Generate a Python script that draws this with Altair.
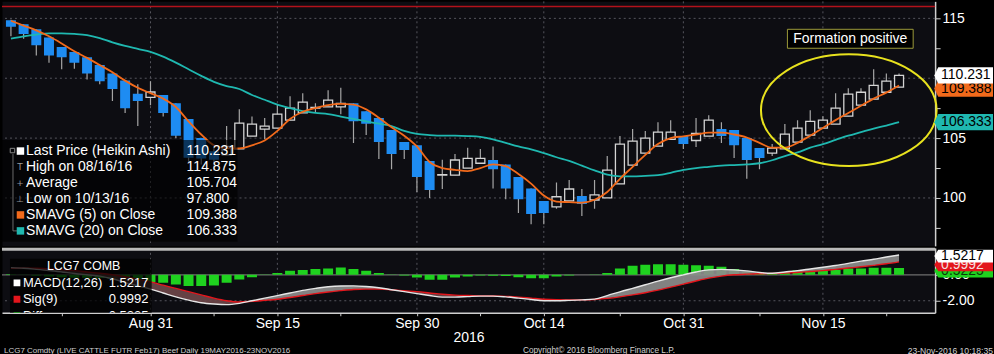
import altair as alt
import pandas as pd

FONT = "Liberation Sans"
W = 935
H_MAIN = 245
H_LOW = 65

# ---------------- data ----------------
days = ["08/16", "08/17", "08/18", "08/19", "08/22", "08/23", "08/24", "08/25", "08/26", "08/29",
        "08/30", "08/31", "09/01", "09/02", "09/06", "09/07", "09/08", "09/09", "09/12", "09/13",
        "09/14", "09/15", "09/16", "09/19", "09/20", "09/21", "09/22", "09/23", "09/26", "09/27",
        "09/28", "09/29", "09/30", "10/03", "10/04", "10/05", "10/06", "10/07", "10/10", "10/11",
        "10/12", "10/13", "10/14", "10/17", "10/18", "10/19", "10/20", "10/21", "10/24", "10/25",
        "10/26", "10/27", "10/28", "10/31", "11/01", "11/02", "11/03", "11/04", "11/07", "11/08",
        "11/09", "11/10", "11/11", "11/14", "11/15", "11/16", "11/17", "11/18", "11/21", "11/22",
        "11/23"]

ha_open = [114.85, 114.5, 114.1, 113.4, 112.6, 112.2, 111.75, 111.1, 110.4, 109.8,
           108.7, 108.4, 108.6, 107.9, 106.6, 105.0, 103.9, 103.6, 104.1, 105.17,
           105.75, 105.83, 106.5, 107.1, 107.5, 107.6, 107.6, 107.9, 107.25, 106.67,
           105.67, 104.67, 104.4, 103.08, 101.9, 101.9, 102.5, 102.9, 103.17, 102.8,
           101.75, 100.8, 99.75, 99.25, 99.75, 100.17, 99.83, 100.0, 101.17, 102.75,
           103.75, 104.33, 104.9, 105.17, 104.8, 105.17, 105.75, 105.67, 105.0, 104.17,
           103.75, 104.1, 104.67, 105.25, 105.83, 106.17, 106.83, 107.75, 108.25, 108.83,
           109.25]
ha_close = [114.3, 113.7, 112.75, 111.9, 111.75, 111.3, 110.4, 109.75, 109.1, 107.5,
            108.1, 108.85, 107.1, 105.2, 103.35, 103.3, 103.2, 104.3, 106.25, 106.17,
            106.0, 107.0, 107.5, 108.0, 107.56, 108.17, 107.9, 106.4, 106.2, 104.67,
            103.67, 104.0, 101.75, 100.67, 101.95, 103.17, 103.3, 103.3, 102.4, 100.8,
            99.9, 98.67, 98.75, 100.1, 100.75, 99.5, 100.25, 102.33, 104.5, 104.75,
            105.0, 105.5, 105.5, 104.5, 105.4, 106.5, 105.17, 104.4, 103.17, 103.33,
            104.17, 105.33, 105.83, 106.4, 106.5, 107.5, 108.67, 108.83, 109.4, 109.75,
            110.231]
ha_high = [114.875, 114.5, 114.1, 113.4, 112.6, 112.2, 111.75, 111.1, 110.4, 109.8,
           109.5, 109.75, 108.6, 107.9, 106.6, 105.0, 104.2, 106.0, 107.4, 106.8,
           106.67, 107.8, 108.5, 108.75, 107.9, 109.0, 109.2, 107.9, 107.25, 106.67,
           105.67, 104.67, 104.4, 103.08, 103.2, 103.67, 104.2, 104.1, 104.3, 102.8,
           101.75, 100.8, 99.75, 101.3, 101.5, 100.75, 101.5, 103.5, 105.17, 105.75,
           105.6, 106.33, 106.5, 105.17, 106.67, 106.9, 106.33, 105.67, 105.0, 104.17,
           104.5, 106.17, 106.5, 107.33, 106.83, 108.75, 109.17, 109.17, 110.75, 110.4,
           110.4]
ha_low = [113.5, 113.3, 111.9, 111.3, 110.75, 110.8, 109.9, 109.5, 108.1, 107.1,
          106.0, 107.75, 106.8, 105.0, 103.0, 102.8, 102.3, 103.6, 104.1, 105.17,
          104.9, 105.83, 106.5, 107.1, 107.1, 107.6, 107.0, 104.6, 105.25, 103.25,
          102.4, 103.25, 100.5, 100.0, 100.75, 101.9, 102.5, 102.9, 100.8, 99.9,
          98.75, 97.8, 97.8, 99.1, 99.75, 98.5, 99.1, 100.0, 101.17, 102.75,
          103.75, 104.33, 104.9, 104.1, 104.25, 105.17, 104.6, 103.33, 101.6, 102.4,
          103.5, 104.1, 104.67, 105.25, 105.83, 106.17, 106.83, 107.75, 108.25, 108.83,
          109.25]
sma5 = [114.8, 114.4, 114.0, 113.5, 112.9, 112.25, 111.7, 111.1, 110.5, 109.8,
        109.2, 108.75, 108.3, 107.6, 106.4, 105.3, 104.4, 104.15, 104.15, 104.4,
        104.8, 105.6, 106.6, 107.2, 107.5, 107.75, 107.85, 107.8, 107.4, 106.7,
        105.9, 105.2, 104.3, 103.0, 102.5, 102.35, 102.25, 102.5, 102.8, 102.65,
        102.0, 101.2, 100.2, 99.7, 99.65, 99.6, 99.85, 100.5, 101.6, 102.6,
        103.6, 104.5, 105.0, 105.15, 105.3, 105.45, 105.45, 105.3, 105.05, 104.6,
        104.2, 104.2, 104.6, 105.2, 105.85, 106.5, 107.1, 107.7, 108.3, 108.8,
        109.388]
sma20 = [113.3, 113.5, 113.65, 113.75, 113.75, 113.7, 113.6, 113.35, 113.0, 112.7,
         112.45, 112.2, 111.8, 111.3, 110.75, 110.2, 109.7, 109.35, 109.1, 108.6,
         108.2, 107.8, 107.5, 107.25, 107.1, 107.0, 106.8, 106.6, 106.4, 106.2,
         106.0, 105.6, 105.35, 105.25, 105.2, 105.2, 105.17, 105.1, 104.9, 104.6,
         104.3, 104.05, 103.75, 103.4, 103.1, 102.7, 102.3, 101.95, 101.8, 101.8,
         101.85, 101.9, 102.1, 102.35, 102.5, 102.6, 102.7, 102.75, 102.8, 102.9,
         103.15, 103.5, 103.8, 104.2, 104.5, 104.85, 105.2, 105.5, 105.8, 106.05,
         106.333]
macd = [0.55, 0.5, 0.42, 0.33, 0.22, 0.1, 0.0, -0.1, -0.3, -0.6,
        -0.85, -1.1, -1.4, -1.7, -1.95, -2.15, -2.25, -2.3, -2.2, -2.0,
        -1.8, -1.6, -1.4, -1.2, -1.05, -0.92, -0.86, -0.85, -0.9, -1.0,
        -1.15, -1.3, -1.45, -1.6, -1.72, -1.72, -1.68, -1.64, -1.64, -1.7,
        -1.8, -1.9, -2.0, -2.0, -1.97, -1.93, -1.87, -1.6, -1.31, -1.04,
        -0.77, -0.49, -0.23, 0.0, 0.22, 0.38, 0.42, 0.38, 0.3, 0.18,
        0.12, 0.22, 0.32, 0.45, 0.58, 0.72, 0.88, 1.05, 1.2, 1.37,
        1.5217]
sig = [0.5, 0.52, 0.5, 0.46, 0.4, 0.32, 0.22, 0.12, 0.0, -0.15,
       -0.33, -0.55, -0.8, -1.05, -1.3, -1.55, -1.8, -2.0, -2.1, -2.05,
       -1.97, -1.88, -1.75, -1.6, -1.45, -1.33, -1.22, -1.13, -1.1, -1.1,
       -1.15, -1.23, -1.3, -1.4, -1.5, -1.57, -1.6, -1.62, -1.63, -1.66,
       -1.72, -1.8, -1.88, -1.92, -1.93, -1.93, -1.9, -1.82, -1.7, -1.55,
       -1.38, -1.18, -0.95, -0.72, -0.48, -0.26, -0.1, 0.0, 0.05, 0.08,
       0.1, 0.13, 0.18, 0.25, 0.32, 0.42, 0.52, 0.62, 0.73, 0.85,
       0.9992]
diff = [0.05, -0.02, -0.08, -0.13, -0.18, -0.22, -0.22, -0.25, -0.3, -0.42,
        -0.5, -0.55, -0.62, -0.74, -0.87, -0.87, -0.82, -0.62, -0.36, -0.18,
        0.03, 0.13, 0.31, 0.38, 0.44, 0.49, 0.56, 0.44, 0.31, 0.13,
        0.03, -0.05, -0.2, -0.38, -0.38, -0.2, -0.13, -0.05, -0.08, -0.1,
        -0.18, -0.26, -0.26, -0.13, -0.05, 0.0, 0.03, 0.13, 0.49, 0.69,
        0.77, 0.82, 0.82, 0.77, 0.74, 0.69, 0.62, 0.44, 0.23, 0.1,
        0.12, 0.2, 0.36, 0.31, 0.31, 0.38, 0.49, 0.49, 0.54, 0.54,
        0.5225]

major_idx = [11, 21, 32, 42, 53, 64]
major_labels = ["Aug 31", "Sep 15", "Sep 30", "Oct 14", "Oct 31", "Nov 15"]
minor_idx = [4, 16, 26, 37, 48, 59, 69]

price_ticks = [115, 112.5, 110, 107.5, 105, 102.5, 100, 97.5]
price_tick_labels = ["115", "", "", "", "105", "", "100", ""]
price_grid = [115, 110, 105, 100]
macd_ticks = [0, -2]
macd_tick_labels = ["0.00", "-2.00"]

legend_labels = ["Last Price (Heikin Ashi)", "High on 08/16/16", "Average",
                 "Low on 10/13/16", "SMAVG (5) on Close", "SMAVG (20) on Close"]
legend_values = ["110.231", "114.875", "105.704", "97.800", "109.388", "106.333"]

low_labels = ["MACD(12,26)", "Sig(9)", "Diff"]
low_values = ["1.5217", "0.9992", "0.5225"]

price_tags = [106.333, 109.388, 110.231]
price_tag_text = ["106.333", "109.388", "110.231"]
macd_tags = [0.5225, 0.9992, 1.5217]
macd_tag_text = ["0.5225", "0.9992", "1.5217"]

# ---------------- styles ----------------
BG = "#0d0d12"
BLUE = "#1e8cf2"
ORANGE = "#f26a1b"
TEAL = "#1fb8b0"
GRID = "#55555d"
AXIS = "#cfcfcf"
GREEN = "#1fd21f"
RED = "#e3161c"

n = len(ha_open)
df = pd.DataFrame({
    "i": list(range(n)), "day": days,
    "open": ha_open, "high": ha_high, "low": ha_low, "close": ha_close,
    "sma5": sma5, "sma20": sma20, "macd": macd, "sig": sig, "diff": diff,
})

xscale = alt.Scale(domain=[-0.311, 72.45], nice=False, zero=False)
pscale = alt.Scale(domain=[96.0, 116.42], nice=False, zero=False)
mscale = alt.Scale(domain=[-2.923, 2.077], nice=False, zero=False)


def lookup_expr(vals, labs):
    expr = "''"
    for v, l in zip(vals, labs):
        expr = f"datum.value == {v} ? '{l}' : ({expr})"
    return expr


price_axis = alt.Axis(orient="right", values=price_ticks,
                      labelExpr=lookup_expr(price_ticks, price_tick_labels),
                      tickSize=5, tickColor=AXIS, domainColor=AXIS, domainWidth=1.5,
                      labelColor="#ffffff", labelFont=FONT, labelFontSize=14,
                      labelPadding=2, labelFlush=False, labelOverlap=False,
                      grid=False, title=None)
macd_axis = alt.Axis(orient="right", values=macd_ticks,
                     labelExpr=lookup_expr(macd_ticks, macd_tick_labels),
                     tickSize=5, tickColor=AXIS, domainColor=AXIS, domainWidth=1.5,
                     labelColor="#ffffff", labelFont=FONT, labelFontSize=14,
                     labelPadding=2, labelFlush=False, labelOverlap=False,
                     grid=False, title=None)
x_axis = alt.Axis(orient="bottom", values=major_idx + minor_idx,
                  labelExpr=lookup_expr(major_idx, major_labels),
                  tickSize=3, tickColor=AXIS, domainColor=AXIS, domainWidth=1.5,
                  labelColor="#ffffff", labelFont=FONT, labelFontSize=14,
                  labelPadding=1, labelFlush=False, labelOverlap=False, grid=False,
                  title="2016", titleColor="#ffffff", titleFont=FONT, titleFontSize=14,
                  titleFontWeight="normal", titleY=25, titleBaseline="middle")


def XM(f="i"):
    # main panel: no x axis at all
    return alt.X(f"{f}:Q", scale=xscale, axis=None)


def XL(f="i"):
    # lower panel: every layer carries the same x axis
    return alt.X(f"{f}:Q", scale=xscale, axis=x_axis)


def YP(f):
    return alt.Y(f"{f}:Q", scale=pscale, axis=price_axis)


def YM(f):
    return alt.Y(f"{f}:Q", scale=mscale, axis=macd_axis)


def one(**kw):
    return alt.Chart(pd.DataFrame({k: [v] for k, v in kw.items()} if kw else {"a": [0]}))


base = alt.Chart(df)

# ---------------- main panel ----------------
main_layers = []
main_layers.append(alt.Chart(pd.DataFrame({"p": price_grid})).mark_rule(
    color=GRID, strokeWidth=1, strokeDash=[2, 3]).encode(y=YP("p")))
main_layers.append(alt.Chart(pd.DataFrame({"g": major_idx})).mark_rule(
    color=GRID, strokeWidth=1, strokeDash=[2, 3]).encode(x=XM("g")))
main_layers.append(alt.Chart(pd.DataFrame({"p": [116.0]})).mark_rule(
    color="#b3121b", strokeWidth=1.5).encode(y=YP("p")))
main_layers.append(base.mark_rule(color="#a6a6a6", strokeWidth=1.2, clip=True).encode(
    x=XM(), y=YP("low"), y2="high"))
main_layers.append(base.transform_filter("datum.close < datum.open").mark_bar(
    size=10, color=BLUE, opacity=1, clip=True).encode(x=XM(), y=YP("open"), y2="close"))
main_layers.append(base.transform_filter("datum.close >= datum.open").mark_bar(
    size=9, fill=BG, stroke="#d4d4d4", strokeWidth=1.3, opacity=1, clip=True).encode(
    x=XM(), y=YP("open"), y2="close"))
main_layers.append(base.mark_line(color=TEAL, strokeWidth=1.8, interpolate="monotone",
                                  clip=True).encode(x=XM(), y=YP("sma20")))
main_layers.append(base.mark_line(color=ORANGE, strokeWidth=1.8, interpolate="monotone",
                                  clip=True).encode(x=XM(), y=YP("sma5")))

# legend box
main_layers.append(one().mark_rect(color="#000000", opacity=0.62).encode(
    x=alt.value(0), x2=alt.value(236), y=alt.value(139), y2=alt.value(241)))
main_layers.append(one().mark_rule(color="#6a6a6a", strokeWidth=1).encode(
    x=alt.value(11), y=alt.value(153), y2=alt.value(230)))
main_layers.append(one().mark_rule(color="#6a6a6a", strokeWidth=1).encode(
    x=alt.value(11), x2=alt.value(15), y=alt.value(230)))
main_layers.append(one().mark_point(shape="square", size=20, filled=False, color="#8a8a8a",
                                    opacity=1, strokeWidth=1).encode(
    x=alt.value(10.5), y=alt.value(149.5)))
icon_glyphs = [None, "T", "+", "\u22a5", None, None]
icon_colors = ["#ffffff", None, None, None, ORANGE, TEAL]
for r, (lab, val) in enumerate(zip(legend_labels, legend_values)):
    py = 150 + 16 * r
    main_layers.append(one(t=lab).mark_text(
        align="left", baseline="middle", font=FONT, fontSize=14, color="#ffffff").encode(
        x=alt.value(24), y=alt.value(py), text="t:N"))
    main_layers.append(one(t=val).mark_text(
        align="left", baseline="middle", font=FONT, fontSize=14, color="#ffffff").encode(
        x=alt.value(185), y=alt.value(py), text="t:N"))
    if icon_colors[r]:
        main_layers.append(one().mark_point(shape="square", size=56, filled=True,
                                            color=icon_colors[r], opacity=1).encode(
            x=alt.value(18.5), y=alt.value(py)))
    else:
        main_layers.append(one(t=icon_glyphs[r]).mark_text(
            align="center", baseline="middle", font="DejaVu Sans", fontSize=9,
            color="#9a9a9a").encode(x=alt.value(18), y=alt.value(py), text="t:N"))

# annotation: ellipse and caption
k = 0.5523
r_ = 0.636
ELLIPSE = (f"M -1 0 C -1 {-k*r_:.4f} {-k} {-r_} 0 {-r_} "
           f"C {k} {-r_} 1 {-k*r_:.4f} 1 0 "
           f"C 1 {k*r_:.4f} {k} {r_} 0 {r_} "
           f"C {-k} {r_} -1 {k*r_:.4f} -1 0 Z")
main_layers.append(one().mark_point(shape=ELLIPSE, size=176 * 176, filled=False,
                                    color="#e8e21e", strokeWidth=2, opacity=1).encode(
    x=alt.value(848.5), y=alt.value(109)))
main_layers.append(one().mark_rect(fill="#000000", stroke="#9c9a3a", strokeWidth=1).encode(
    x=alt.value(787), x2=alt.value(913), y=alt.value(28), y2=alt.value(47)))
main_layers.append(one(t="Formation positive").mark_text(
    align="center", baseline="middle", font=FONT, fontSize=14, color="#ffffff").encode(
    x=alt.value(850), y=alt.value(38), text="t:N"))

# right side value tags
TAG_MAIN = "M -1.1 0 L -0.96 -0.29 L 1 -0.29 L 1 0.29 L -0.96 0.29 Z"
tag_fill = [TEAL, ORANGE, "#ffffff"]
tag_offset = [0, 3, 0]
for v, t, c, o in zip(price_tags, price_tag_text, tag_fill, tag_offset):
    d = one(v=v, t=t)
    main_layers.append(d.mark_point(shape=TAG_MAIN, size=56 * 56, filled=True, color=c,
                                    opacity=1, strokeWidth=0, yOffset=o).encode(
        x=alt.value(965), y=YP("v")))
    main_layers.append(d.mark_text(align="left", baseline="middle", font=FONT, fontSize=14,
                                   color="#000000", yOffset=o).encode(
        x=alt.value(941), y=YP("v"), text="t:N"))

main = alt.layer(*main_layers).properties(width=W, height=H_MAIN)

# ---------------- MACD panel ----------------
low_layers = []
low_layers.append(alt.Chart(pd.DataFrame({"g": major_idx})).mark_rule(
    color=GRID, strokeWidth=1, strokeDash=[2, 3]).encode(x=XL("g")))
low_layers.append(alt.Chart(pd.DataFrame({"m": [-2.0]})).mark_rule(
    color=GRID, strokeWidth=1, strokeDash=[2, 3]).encode(y=YM("m")))
low_layers.append(alt.Chart(pd.DataFrame({"m": [0.0]})).mark_rule(
    color="#6e6e6e", strokeWidth=1.2).encode(y=YM("m")))
low_layers.append(base.mark_bar(size=10, color=GREEN, opacity=1, clip=True).encode(
    x=XL(), y=YM("diff"), y2=alt.datum(0)))
low_layers.append(base.transform_calculate(hi="max(datum.macd, datum.sig)").mark_area(
    color="#8c8c8c", opacity=0.92, interpolate="monotone", clip=True).encode(
    x=XL(), y=YM("hi"), y2="sig"))
low_layers.append(base.transform_calculate(lo="min(datum.macd, datum.sig)").mark_area(
    color="#6f474a", opacity=0.9, interpolate="monotone", clip=True).encode(
    x=XL(), y=YM("lo"), y2="sig"))
low_layers.append(base.mark_line(color=RED, strokeWidth=1.4, interpolate="monotone",
                                 clip=True).encode(x=XL(), y=YM("sig")))
low_layers.append(base.mark_line(color="#e6e6e6", strokeWidth=1.4, interpolate="monotone",
                                 clip=True).encode(x=XL(), y=YM("macd")))
# separator bar on top of the panel
low_layers.append(one().mark_rule(color="#b9b9b9", strokeWidth=3).encode(
    x=alt.value(0), x2=alt.value(W), y=alt.value(1.5)))

# legend
low_layers.append(one().mark_rect(color="#000000", opacity=0.75).encode(
    x=alt.value(8), x2=alt.value(150), y=alt.value(11), y2=alt.value(65)))
low_layers.append(one(t="LCG7 COMB").mark_text(
    align="left", baseline="middle", font=FONT, fontSize=12.5, color="#ffffff").encode(
    x=alt.value(45), y=alt.value(18), text="t:N"))
low_colors = ["#ffffff", RED, GREEN]
for r, (lab, val, c) in enumerate(zip(low_labels, low_values, low_colors)):
    py = 35 + 16.5 * r
    low_layers.append(one().mark_point(shape="square", size=46, filled=True, color=c,
                                       opacity=1, clip=True).encode(
        x=alt.value(15), y=alt.value(py)))
    low_layers.append(one(t=lab).mark_text(
        align="left", baseline="middle", font=FONT, fontSize=13, color="#ffffff",
        clip=True).encode(x=alt.value(21), y=alt.value(py), text="t:N"))
    low_layers.append(one(t=val).mark_text(
        align="left", baseline="middle", font=FONT, fontSize=13, color="#ffffff",
        clip=True).encode(x=alt.value(107), y=alt.value(py), text="t:N"))

TAG_LOW = "M -1.1 0 L -0.96 -0.23 L 1 -0.23 L 1 0.23 L -0.96 0.23 Z"
mtag_fill = [GREEN, RED, "#ffffff"]
mtag_text = ["#0a3a0a", "#f4dede", "#000000"]
mtag_offset = [3, 3, 1]
for v, t, c, tc, o in zip(macd_tags, macd_tag_text, mtag_fill, mtag_text, mtag_offset):
    d = one(v=v, t=t)
    low_layers.append(d.mark_point(shape=TAG_LOW, size=56 * 56, filled=True, color=c,
                                   opacity=1, strokeWidth=0, yOffset=o).encode(
        x=alt.value(965), y=YM("v")))
    low_layers.append(d.mark_text(align="left", baseline="middle", font=FONT, fontSize=14,
                                  color=tc, yOffset=o).encode(
        x=alt.value(941), y=YM("v"), text="t:N"))

# footer
footer = [("LCG7 Comdty (LIVE CATTLE FUTR  Feb17) Beef  Daily 19MAY2016-23NOV2016", 2, "left", 8),
          ("Copyright\u00a9 2016 Bloomberg Finance L.P.", 522, "left", 8.3),
          ("23-Nov-2016 10:18:35", 993, "right", 8.6)]
for t, fx, al, fs in footer:
    low_layers.append(one(t=t).mark_text(
        align=al, baseline="middle", font=FONT, fontSize=fs, color="#d0d0d0").encode(
        x=alt.value(fx), y=alt.value(103), text="t:N"))

low = alt.layer(*low_layers).properties(width=W, height=H_LOW)

chart = alt.vconcat(main, low, spacing=0).properties(
    padding=0, background="#000000"
).configure_view(stroke="transparent", fill=BG)

chart.save("out.html", embed_options={"renderer": "svg", "actions": False})
